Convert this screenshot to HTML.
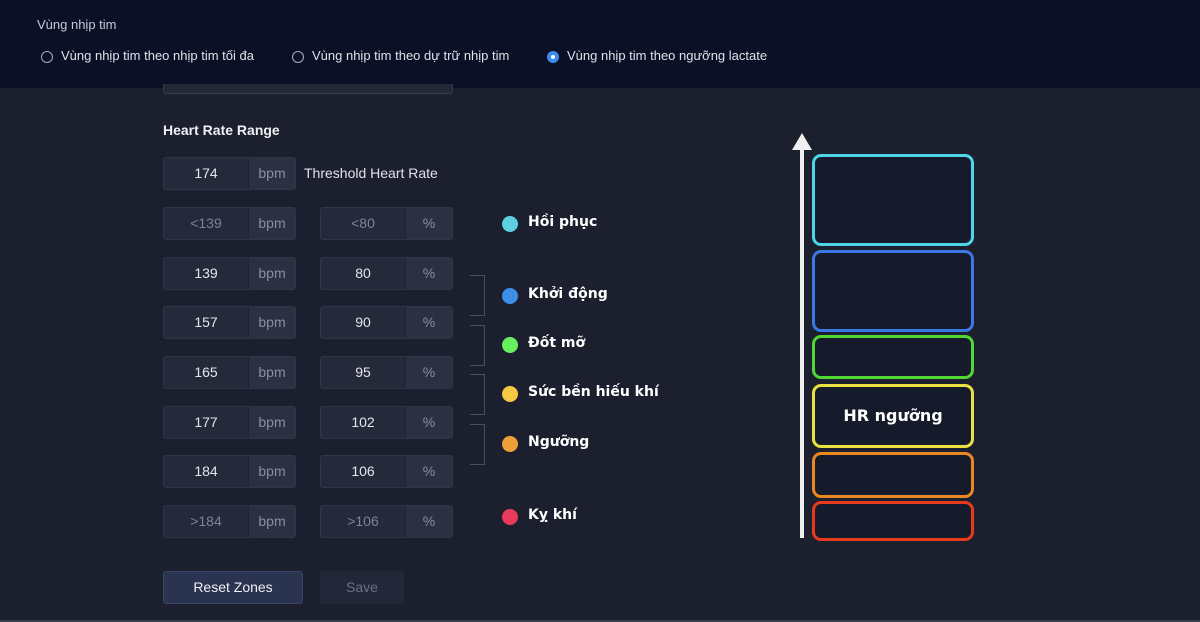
<!DOCTYPE html>
<html><head><meta charset="utf-8"><style>
*{margin:0;padding:0;box-sizing:border-box}
body{width:1200px;height:622px;background:#1b1f2e;font-family:"Liberation Sans","Noto Sans CJK SC",sans-serif;position:relative;overflow:hidden;color:#fff}
.hdr{position:absolute;left:0;top:0;width:1200px;height:88px;background:#0b1026}
.t{position:absolute;white-space:nowrap}
.rad{position:absolute;width:12px;height:12px;border:1px solid #aab;border-radius:50%}
.box{position:absolute;width:133px;height:33px;background:#252a3b;border:1px solid #30364a;border-radius:3px;font-size:14px}
.box .v{position:absolute;left:0;top:0;width:84px;height:31px;line-height:31px;text-align:center;color:#e6e6ea}
.box .u{position:absolute;left:84px;top:0;width:47px;height:31px;line-height:31px;text-align:center;color:#8a8fa0;background:#2b3043;border-left:1px solid #1f2333}
.dim .v{color:#7d8294}
.br{position:absolute;left:470px;width:15px;border:1px solid #4a4f60;border-left:none}
.dot{position:absolute;left:502px;width:16px;height:16px;border-radius:50%}
.lbl{position:absolute;left:528px;font-size:14px;font-weight:bold;color:#fff;font-family:"DejaVu Sans",sans-serif}
.z{position:absolute;left:812px;width:162px;border:3px solid;border-radius:9px;background:#161b2b}
</style></head><body>
<div class="hdr"></div>
<div class="t" style="left:37px;top:17px;font-size:13px;color:#c8cad4">Vùng nhịp tim</div>
<div class="rad" style="left:41px;top:51px"></div>
<div class="t" style="left:61px;top:48px;font-size:13px;color:#dfe1ea">Vùng nhịp tim theo nhịp tim tối đa</div>
<div class="rad" style="left:292px;top:51px"></div>
<div class="t" style="left:312px;top:48px;font-size:13px;color:#dfe1ea">Vùng nhịp tim theo dự trữ nhịp tim</div>
<div class="rad" style="left:547px;top:51px;background:#3d8cf0;border-color:#3d8cf0"><div style="position:absolute;left:3px;top:3px;width:4px;height:4px;background:#fff;border-radius:50%"></div></div>
<div class="t" style="left:567px;top:48px;font-size:13px;color:#dfe1ea">Vùng nhịp tim theo ngưỡng lactate</div>
<div style="position:absolute;left:163px;top:84px;width:290px;height:10px;border:1px solid #3a3f52;border-top:none;border-radius:0 0 3px 3px;background:#232839"></div>
<div class="t" style="left:163px;top:122px;font-size:14px;font-weight:bold;color:#f0f0f4">Heart Rate Range</div>
<div class="box" style="left:163px;top:157px"><div class="v">174</div><div class="u">bpm</div></div>
<div class="t" style="left:304px;top:165px;font-size:14px;color:#e0e2ea">Threshold Heart Rate</div>

<div class="box dim" style="left:163px;top:207px"><div class="v">&lt;139</div><div class="u">bpm</div></div>
<div class="box dim" style="left:320px;top:207px"><div class="v">&lt;80</div><div class="u">%</div></div>
<div class="box" style="left:163px;top:257px"><div class="v">139</div><div class="u">bpm</div></div>
<div class="box" style="left:320px;top:257px"><div class="v">80</div><div class="u">%</div></div>
<div class="box" style="left:163px;top:306px"><div class="v">157</div><div class="u">bpm</div></div>
<div class="box" style="left:320px;top:306px"><div class="v">90</div><div class="u">%</div></div>
<div class="box" style="left:163px;top:356px"><div class="v">165</div><div class="u">bpm</div></div>
<div class="box" style="left:320px;top:356px"><div class="v">95</div><div class="u">%</div></div>
<div class="box" style="left:163px;top:406px"><div class="v">177</div><div class="u">bpm</div></div>
<div class="box" style="left:320px;top:406px"><div class="v">102</div><div class="u">%</div></div>
<div class="box" style="left:163px;top:455px"><div class="v">184</div><div class="u">bpm</div></div>
<div class="box" style="left:320px;top:455px"><div class="v">106</div><div class="u">%</div></div>
<div class="box dim" style="left:163px;top:505px"><div class="v">&gt;184</div><div class="u">bpm</div></div>
<div class="box dim" style="left:320px;top:505px"><div class="v">&gt;106</div><div class="u">%</div></div>

<div class="br" style="top:275px;height:41px"></div>
<div class="br" style="top:325px;height:41px"></div>
<div class="br" style="top:374px;height:41px"></div>
<div class="br" style="top:424px;height:41px"></div>

<div class="dot" style="top:216px;background:#5bd0e0"></div><div class="lbl" style="top:214px">Hồi phục</div>
<div class="dot" style="top:288px;background:#3e8ee8"></div><div class="lbl" style="top:286px">Khởi động</div>
<div class="dot" style="top:337px;background:#66f060"></div><div class="lbl" style="top:335px">Đốt mỡ</div>
<div class="dot" style="top:386px;background:#f6c844"></div><div class="lbl" style="top:384px">Sức bền hiếu khí</div>
<div class="dot" style="top:436px;background:#f0a038"></div><div class="lbl" style="top:434px">Ngưỡng</div>
<div class="dot" style="top:509px;background:#e83a5a"></div><div class="lbl" style="top:507px">Kỵ khí</div>

<div style="position:absolute;left:163px;top:571px;width:140px;height:33px;background:#2a3350;border:1px solid #3a4466;border-radius:3px;text-align:center;line-height:31px;font-size:14px;color:#f0f0f4">Reset Zones</div>
<div style="position:absolute;left:320px;top:571px;width:84px;height:33px;background:#232838;border-radius:3px;text-align:center;line-height:33px;font-size:14px;color:#6c7182">Save</div>
<div style="position:absolute;left:0;top:620px;width:1200px;height:2px;background:#3a3f50"></div>

<div style="position:absolute;left:800px;top:148px;width:4px;height:390px;background:#f0f0f0"></div>
<div style="position:absolute;left:792px;top:133px;width:0;height:0;border-left:10px solid transparent;border-right:10px solid transparent;border-bottom:17px solid #f0f0f0"></div>
<div class="z" style="top:154px;height:92px;border-color:#4fd6e6"></div>
<div class="z" style="top:250px;height:82px;border-color:#3b78e6"></div>
<div class="z" style="top:335px;height:44px;border-color:#4fd832"></div>
<div class="z" style="top:384px;height:64px;border-color:#ece040"></div>
<div class="t" style="left:812px;top:406px;width:162px;text-align:center;font-size:16px;font-weight:bold;font-family:'DejaVu Sans',sans-serif">HR ngưỡng</div>
<div class="z" style="top:452px;height:46px;border-color:#e8881e"></div>
<div class="z" style="top:501px;height:40px;border-color:#e63a1c"></div>
</body></html>
